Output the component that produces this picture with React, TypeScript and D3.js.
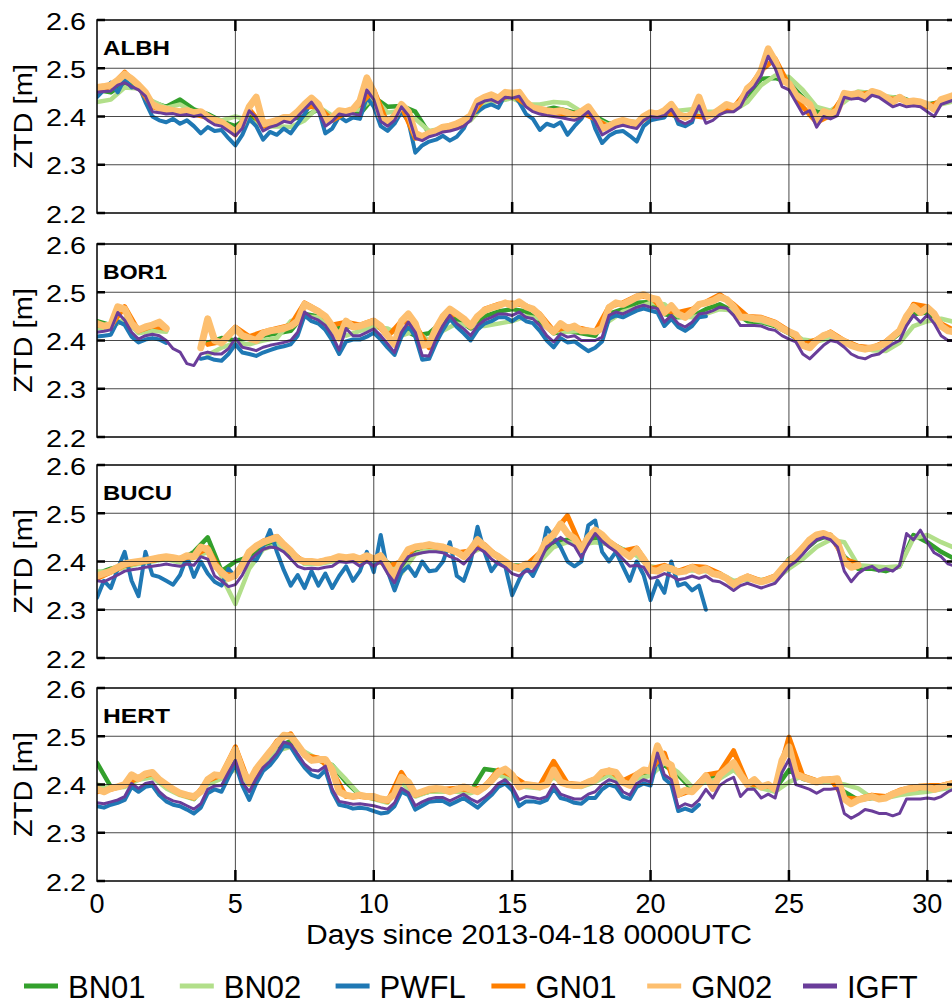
import React from 'react';
import * as d3 from 'd3';

// ZTD values in mm. 0.25-day arrays have 125 values, 0.5-day arrays 63.
const _ = null;

// ---------- ALBH ----------
const ALBH_BN01 = [
  2455, 2450, 2470, 2460, 2430, 2420, 2435, 2415, 2405, 2390,
  2380, 2400, 2385, 2390, 2395, 2400, 2415, 2395, 2410, 2405,
  2440, 2420, 2422, 2410, 2365, 2372, 2378, 2395, 2430, 2432,
  2440, 2428, 2412, 2418, 2412, 2405, 2400, 2385, 2390, 2388,
  2402, 2408, 2400, 2402, 2400, 2408, 2415, 2440, 2478, 2480,
  2470, 2440, 2410, 2405, 2440, 2450, 2450, 2440, 2440, 2430,
  2425, 2430, 2435,
];
const ALBH_BN02 = [
  2430, 2435, 2460, 2458, 2432, 2418, 2425, 2408, 2400, 2392,
  2400, 2392, 2378, 2380, 2378, 2392, 2420, 2402, 2412, 2415,
  2440, 2408, 2412, 2395, 2370, 2375, 2380, 2392, 2425, 2432,
  2438, 2425, 2425, 2430, 2428, 2410, 2395, 2382, 2385, 2385,
  2400, 2410, 2412, 2415, 2410, 2410, 2412, 2430, 2465, 2485,
  2482, 2455, 2420, 2412, 2430, 2452, 2448, 2442, 2438, 2428,
  2422, 2425, 2432,
];
const ALBH_PWFL = [
  2440, 2455, 2470, 2450, 2478, 2460, 2465, 2430, 2400, 2392, 2388, 2395, 2385, 2392, 2380, 2365, 2378, 2370, 2372, 2355,
  2340, 2362, 2395, 2380, 2352, 2368, 2362, 2375, 2365, 2385, 2405, 2430, 2415, 2365, 2375, 2400, 2390, 2398, 2395, 2440,
  2420, 2380, 2370, 2385, 2410, 2390, 2325, 2340, 2348, 2352, 2360, 2350, 2358, 2375, 2405, 2410, 2420, 2425, 2418, 2445,
  2450, 2430, 2405, 2395, 2372, 2385, 2380, 2388, 2362, 2380, 2395, 2420, 2375, 2345, 2360, 2368, 2370, 2360, 2348, 2380,
  2392, 2395, 2398, 2420, 2385, 2380, 2388, 2430, _, _, _, _, _, _, _, _, _, _, _, _,
  _, _, _, _, _, _, _, _, _, _, _, _, _, _, _, _, _, _, _, _,
  _, _, _, _, _,
];
const ALBH_GN01 = [
  2455, 2462, 2492, 2462, 2420, 2412, 2408, 2405, 2398, 2385,
  2362, 2415, 2380, 2388, 2395, 2420, 2420, 2392, 2408, 2425,
  2455, 2385, 2422, 2355, 2362, 2372, 2380, 2400, 2438, 2435,
  2445, 2425, 2410, 2408, 2405, 2408, 2395, 2378, 2388, 2382,
  2405, 2410, 2400, 2402, 2398, 2412, 2418, 2455, 2495, 2520,
  2465, 2420, 2388, 2402, 2445, 2445, 2450, 2438, 2435, 2430,
  2420, 2432, 2440,
];
const ALBH_GN02 = [
  2460, 2462, 2465, 2475, 2488, 2478, 2465, 2450, 2425, 2418, 2415, 2412, 2410, 2412, 2408, 2410, 2400, 2392, 2388, 2378,
  2368, 2385, 2420, 2440, 2385, 2388, 2392, 2398, 2398, 2410, 2425, 2438, 2425, 2392, 2398, 2412, 2410, 2415, 2432, 2480,
  2450, 2400, 2388, 2400, 2425, 2410, 2365, 2358, 2365, 2370, 2378, 2380, 2385, 2392, 2402, 2432, 2440, 2445, 2438, 2450,
  2448, 2450, 2430, 2418, 2415, 2412, 2410, 2412, 2408, 2402, 2410, 2420, 2400, 2375, 2380, 2388, 2392, 2388, 2385, 2400,
  2408, 2405, 2412, 2425, 2405, 2398, 2405, 2440, 2400, 2405, 2415, 2425, 2420, 2428, 2458, 2470, 2495, 2540, 2515, 2475,
  2468, 2445, 2435, 2425, 2390, 2410, 2405, 2412, 2448, 2445, 2448, 2440, 2452, 2448, 2440, 2430, 2440, 2430, 2432, 2430,
  2425, 2415, 2435, 2440, 2445,
];
const ALBH_IGFT = [
  2450, 2452, 2453, 2465, 2470, 2462, 2455, 2442, 2410, 2408, 2405, 2406, 2402, 2404, 2400, 2403, 2392, 2383, 2380, 2370,
  2360, 2375, 2412, 2398, 2370, 2378, 2382, 2390, 2387, 2400, 2415, 2430, 2410, 2380, 2390, 2405, 2402, 2406, 2402, 2455,
  2435, 2390, 2380, 2392, 2420, 2402, 2355, 2350, 2358, 2362, 2368, 2370, 2374, 2380, 2392, 2425, 2432, 2435, 2428, 2440,
  2438, 2442, 2420, 2410, 2405, 2402, 2400, 2398, 2395, 2392, 2398, 2410, 2390, 2362, 2370, 2378, 2382, 2378, 2375, 2392,
  2400, 2398, 2402, 2415, 2392, 2385, 2392, 2422, 2386, 2392, 2404, 2410, 2410, 2420, 2448, 2462, 2485, 2525, 2500, 2462,
  2455, 2430, 2405, 2412, 2378, 2400, 2395, 2402, 2440, 2436, 2438, 2432, 2444, 2440, 2430, 2420, 2425, 2420, 2422, 2420,
  2410, 2400, 2425, 2430, 2435,
];

// ---------- BOR1 ----------
const BOR1_BN01 = [
  2440, 2432, 2440, 2418, 2425, 2420, _, _, 2395, 2405,
  2400, 2405, 2410, 2415, 2420, 2455, 2450, 2425, 2430, 2425,
  2435, 2420, 2425, 2410, 2415, 2440, 2445, 2425, 2450, 2460,
  2465, 2460, 2440, 2415, 2420, 2415, 2410, 2455, 2465, 2478,
  2480, 2455, 2448, 2450, 2465, 2475, 2460, 2440, 2438, 2430,
  2415, 2395, 2400, 2410, 2395, 2385, 2382, 2392, 2415, 2455,
  2458, 2430, 2420,
];
const BOR1_BN02 = [
  2425, 2428, 2445, 2415, 2420, 2418, _, _, 2370, 2385,
  2395, 2392, 2400, 2405, 2440, 2450, 2448, 2420, 2410, 2420,
  2428, 2425, 2410, 2420, 2400, 2420, 2435, 2430, 2430, 2435,
  2440, 2450, 2445, 2420, 2418, 2420, 2420, 2440, 2460, 2468,
  2478, 2475, 2450, 2448, 2455, 2465, 2462, 2445, 2440, 2432,
  2420, 2402, 2398, 2405, 2400, 2388, 2380, 2378, 2395, 2430,
  2440, 2445, 2438,
];
const BOR1_PWFL = [
  2408, 2410, 2412, 2440, 2432, 2408, 2396, 2402, 2405, 2402, 2395, _, _, _, _, 2362, 2365, 2360, 2358, 2372,
  2392, 2375, 2372, 2368, 2375, 2380, 2385, 2388, 2392, 2410, 2452, 2440, 2435, 2422, 2400, 2372, 2398, 2402, 2402, 2408,
  2416, 2402, 2385, 2370, 2408, 2430, 2408, 2360, 2362, 2395, 2422, 2445, 2428, 2415, 2400, 2422, 2435, 2440, 2448, 2448,
  2440, 2450, 2440, 2436, 2420, 2400, 2386, 2405, 2396, 2398, 2388, 2378, 2385, 2398, 2445, 2452, 2448, 2455, 2462, 2466,
  2462, 2458, 2430, 2445, 2428, 2420, 2430, 2448, 2450, _, _, _, _, _, _, _, _, _, _, _,
  _, _, _, _, _, _, _, _, _, _, _, _, _, _, _, _, _, _, _, _,
  _, _, _, _, _,
];
const BOR1_GN01 = [
  2432, 2430, 2470, 2420, 2430, 2425, _, _, 2392, 2398,
  2428, 2408, 2418, 2425, 2432, 2478, 2462, 2432, 2438, 2432,
  2442, 2408, 2440, 2432, 2385, 2448, 2455, 2432, 2465, 2475,
  2478, 2472, 2455, 2420, 2428, 2425, 2418, 2470, 2478, 2492,
  2490, 2462, 2458, 2465, 2480, 2495, 2475, 2450, 2448, 2438,
  2420, 2392, 2402, 2418, 2400, 2388, 2385, 2398, 2422, 2475,
  2470, 2435, 2420,
];
const BOR1_GN02 = [
  2435, 2430, 2432, 2470, 2465, 2435, 2422, 2428, 2432, 2438, 2425, _, _, _, _, 2385, 2445, 2400, 2395, 2410,
  2425, 2410, 2405, 2400, 2415, 2420, 2422, 2425, 2430, 2440, 2475, 2468, 2460, 2450, 2430, 2405, 2440, 2428, 2430, 2435,
  2440, 2430, 2410, 2392, 2440, 2455, 2435, 2390, 2392, 2425, 2450, 2465, 2455, 2445, 2430, 2450, 2462, 2468, 2472, 2478,
  2472, 2480, 2470, 2465, 2452, 2430, 2418, 2435, 2425, 2430, 2420, 2420, 2418, 2425, 2468, 2478, 2475, 2482, 2490, 2495,
  2488, 2485, 2458, 2472, 2455, 2448, 2460, 2475, 2478, 2482, 2490, 2485, 2470, 2448, 2448, 2445, 2445, 2440, 2435, 2425,
  2418, 2412, 2390, 2385, 2400, 2410, 2415, 2405, 2398, 2390, 2385, 2382, 2385, 2388, 2395, 2408, 2420, 2450, 2470, 2458,
  2468, 2455, 2430, 2420, 2418,
];
const BOR1_IGFT = [
  2417, 2419, 2422, 2458, 2442, 2417, 2403, 2410, 2413, 2410, 2400, 2383, 2376, 2352, 2348, 2372, 2376, 2372, 2372, 2383,
  2405, 2386, 2383, 2379, 2386, 2390, 2393, 2396, 2400, 2417, 2459, 2448, 2442, 2431, 2410, 2380, 2425, 2410, 2410, 2417,
  2424, 2410, 2393, 2375, 2417, 2438, 2417, 2369, 2368, 2403, 2431, 2452, 2435, 2424, 2410, 2431, 2442, 2448, 2455, 2455,
  2452, 2459, 2448, 2445, 2431, 2410, 2397, 2414, 2407, 2410, 2400, 2400, 2400, 2407, 2452, 2459, 2455, 2462, 2469, 2473,
  2469, 2466, 2438, 2452, 2435, 2428, 2438, 2455, 2457, 2462, 2469, 2467, 2452, 2431, 2431, 2431, 2430, 2424, 2421, 2410,
  2403, 2397, 2372, 2362, 2376, 2390, 2400, 2397, 2386, 2372, 2365, 2362, 2369, 2372, 2383, 2393, 2400, 2431, 2452, 2438,
  2453, 2435, 2410, 2400, 2400,
];

// ---------- BUCU ----------
const BUCU_BN01 = [
  2375, 2385, 2392, 2400, 2405, 2408, 2402, 2420, 2450, 2380,
  2400, 2410, 2430, 2440, 2415, 2398, 2398, 2402, 2405, 2402,
  2405, 2398, 2380, 2425, 2430, 2428, 2418, 2420, 2432, 2410,
  2392, 2390, 2410, 2440, 2445, 2425, 2450, 2440, 2425, 2415,
  2385, 2388, 2380, 2385, 2382, 2372, 2358, 2365, 2360, 2365,
  2405, 2420, 2445, 2455, 2410, 2385, 2385, 2380, 2390, 2455,
  2440, 2420, 2405,
];
const BUCU_BN02 = [
  2380, 2378, 2388, 2395, 2400, 2405, 2398, 2408, 2420, 2370,
  2312, 2385, 2425, 2435, 2418, 2395, 2395, 2400, 2402, 2400,
  2400, 2395, 2375, 2415, 2425, 2425, 2418, 2418, 2430, 2412,
  2390, 2385, 2400, 2430, 2440, 2435, 2440, 2435, 2425, 2412,
  2390, 2385, 2380, 2382, 2380, 2375, 2360, 2362, 2362, 2362,
  2385, 2405, 2430, 2445, 2440, 2392, 2390, 2388, 2390, 2448,
  2455, 2440, 2428,
];
const BUCU_PWFL = [
  2325, 2360, 2345, 2385, 2420, 2360, 2328, 2420, 2372, 2368, 2360, 2352, 2372, 2410, 2368, 2400, 2375, 2358, 2350, 2385,
  2368, 2400, 2410, 2402, 2430, 2465, 2420, 2382, 2350, 2372, 2345, 2380, 2350, 2375, 2345, 2370, 2390, 2360, 2380, 2420,
  2378, 2455, 2380, 2340, 2378, 2390, 2370, 2400, 2380, 2382, 2400, 2440, 2370, 2360, 2400, 2472, 2420, 2380, 2400, 2390,
  2330, 2362, 2388, 2370, 2400, 2470, 2450, 2430, 2400, 2390, 2400, 2475, 2485, 2420, 2400, 2420, 2390, 2360, 2400, 2372,
  2320, 2360, 2335, 2400, 2350, 2355, 2340, 2350, 2300, _, _, _, _, _, _, _, _, _, _, _,
  _, _, _, _, _, _, _, _, _, _, _, _, _, _, _, _, _, _, _, _,
  _, _, _, _, _,
];
const BUCU_GN01 = [
  2365, 2378, 2392, 2398, 2402, 2408, 2405, 2412, 2428, 2375,
  2370, 2418, 2442, 2452, 2420, 2398, 2400, 2405, 2405, 2402,
  2408, 2390, 2400, 2430, 2432, 2428, 2418, 2422, 2435, 2408,
  2388, 2392, 2418, 2460, 2495, 2430, 2462, 2442, 2422, 2428,
  2385, 2392, 2380, 2390, 2388, 2375, 2355, 2370, 2360, 2370,
  2400, 2430, 2455, 2455, 2405, 2395, _, _, _, _,
  _, _, _,
];
const BUCU_GN02 = [
  2370, 2375, 2380, 2388, 2395, 2398, 2400, 2402, 2405, 2408, 2410, 2408, 2405, 2412, 2410, 2430, 2425, 2392, 2378, 2365,
  2372, 2392, 2420, 2432, 2440, 2445, 2450, 2435, 2422, 2405, 2400, 2400, 2398, 2402, 2405, 2410, 2408, 2410, 2405, 2412,
  2405, 2412, 2392, 2370, 2402, 2425, 2430, 2432, 2435, 2432, 2430, 2425, 2420, 2410, 2425, 2445, 2432, 2418, 2410, 2400,
  2390, 2385, 2395, 2392, 2415, 2445, 2455, 2478, 2458, 2448, 2425, 2450, 2465, 2455, 2440, 2430, 2420, 2410, 2425, 2405,
  2382, 2380, 2388, 2385, 2378, 2380, 2388, 2380, 2385, 2375, 2372, 2365, 2352, 2362, 2368, 2362, 2358, 2362, 2368, 2385,
  2400, 2412, 2428, 2445, 2455, 2458, 2452, 2440, 2400, 2388, 2392, _, _, _, _, _, _, _, _, _,
  _, _, _, _, _,
];
const BUCU_IGFT = [
  2360, 2358, 2365, 2372, 2380, 2383, 2385, 2388, 2390, 2392, 2395, 2392, 2390, 2395, 2392, 2410, 2405, 2370, 2360, 2348,
  2352, 2372, 2400, 2415, 2425, 2430, 2428, 2420, 2405, 2390, 2385, 2386, 2385, 2388, 2390, 2400, 2398, 2400, 2390, 2400,
  2390, 2400, 2375, 2356, 2390, 2410, 2415, 2418, 2420, 2420, 2418, 2410, 2405, 2395, 2410, 2428, 2420, 2405, 2395, 2388,
  2375, 2370, 2380, 2380, 2400, 2430, 2440, 2450, 2440, 2432, 2408, 2435, 2458, 2442, 2430, 2420, 2405, 2390, 2392, 2388,
  2365, 2368, 2375, 2370, 2362, 2365, 2370, 2365, 2370, 2360, 2358, 2350, 2340, 2350, 2355, 2350, 2345, 2350, 2355, 2372,
  2390, 2400, 2415, 2432, 2445, 2450, 2445, 2430, 2380, 2358, 2375, 2385, 2390, 2380, 2385, 2380, 2392, 2458, 2445, 2465,
  2440, 2418, 2410, 2395, 2390,
];

// ---------- HERT ----------
const HERT_BN01 = [
  2445, 2395, 2398, 2412, 2418, 2395, 2380, 2370, 2405, 2418,
  2455, 2400, 2440, 2478, 2490, 2465, 2450, 2440, 2405, 2378,
  2372, 2365, 2412, 2378, 2385, 2388, 2388, 2385, 2432, 2428,
  2415, 2398, 2395, 2425, 2402, 2398, 2408, 2425, 2405, 2418,
  2425, 2440, 2420, 2390, 2412, 2418, 2440, 2400, 2395, 2390,
  2430, 2412, 2405, 2408, 2385, 2368, 2372, 2372, 2385, 2390,
  2392, 2392, 2398,
];
const HERT_BN02 = [
  2400, 2392, 2395, 2410, 2415, 2392, 2378, 2370, 2400, 2412,
  2432, 2400, 2435, 2470, 2478, 2468, 2452, 2440, 2410, 2378,
  2370, 2362, 2405, 2375, 2385, 2385, 2385, 2382, 2392, 2420,
  2410, 2395, 2392, 2415, 2398, 2395, 2405, 2420, 2402, 2412,
  2418, 2445, 2425, 2395, 2405, 2412, 2430, 2405, 2392, 2385,
  2405, 2418, 2408, 2405, 2400, 2392, 2372, 2372, 2378, 2382,
  2385, 2390, 2395,
];
const HERT_PWFL = [
  2355, 2352, 2358, 2362, 2368, 2395, 2385, 2395, 2398, 2378, 2365, 2358, 2355, 2348, 2340, 2352, 2382, 2390, 2385, 2415,
  2442, 2398, 2368, 2402, 2428, 2440, 2458, 2480, 2478, 2455, 2435, 2420, 2415, 2430, 2385, 2358, 2355, 2350, 2352, 2350,
  2345, 2340, 2342, 2355, 2385, 2378, 2348, 2356, 2364, 2366, 2366, 2358, 2365, 2372, 2362, 2352, 2365, 2378, 2395, 2402,
  2388, 2355, 2365, 2365, 2362, 2368, 2392, 2372, 2368, 2362, 2360, 2372, 2372, 2390, 2400, 2395, 2375, 2370, 2395, 2402,
  2398, 2455, 2412, 2400, 2345, 2350, 2345, 2358, _, _, _, _, _, _, _, _, _, _, _, _,
  _, _, _, _, _, _, _, _, _, _, _, _, _, _, _, _, _, _, _, _,
  _, _, _, _, _,
];
const HERT_GN01 = [
  2385, 2390, 2398, 2415, 2422, 2398, 2380, 2372, 2408, 2420,
  2478, 2402, 2448, 2490, 2505, 2460, 2455, 2428, 2375, 2375,
  2372, 2365, 2425, 2378, 2388, 2390, 2392, 2388, 2395, 2430,
  2418, 2400, 2398, 2448, 2402, 2400, 2412, 2430, 2408, 2422,
  2430, 2465, 2378, 2388, 2420, 2425, 2470, 2402, 2398, 2395,
  2498, 2418, 2408, 2412, 2372, 2370, 2378, 2375, 2388, 2395,
  2398, 2398, 2405,
];
const HERT_GN02 = [
  2390, 2385, 2392, 2395, 2400, 2420, 2412, 2422, 2425, 2410, 2400, 2390, 2382, 2378, 2375, 2385, 2410, 2420, 2418, 2445,
  2472, 2430, 2405, 2432, 2450, 2468, 2485, 2502, 2500, 2482, 2462, 2450, 2452, 2452, 2430, 2385, 2378, 2375, 2378, 2375,
  2375, 2370, 2368, 2380, 2415, 2405, 2380, 2385, 2390, 2392, 2390, 2385, 2390, 2395, 2390, 2385, 2395, 2408, 2425, 2432,
  2420, 2395, 2400, 2398, 2395, 2400, 2430, 2405, 2400, 2398, 2398, 2405, 2410, 2425, 2428, 2425, 2405, 2398, 2420, 2430,
  2428, 2480, 2448, 2440, 2380, 2388, 2385, 2400, 2418, 2392, 2420, 2432, 2445, 2420, 2400, 2410, 2395, 2400, 2390, 2450,
  2478, 2422, 2415, 2410, 2405, 2410, 2410, 2412, 2370, 2360, 2368, 2372, 2375, 2370, 2372, 2380, 2385, 2390, 2392, 2395,
  2395, 2390, 2395, 2400, 2402,
];
const HERT_IGFT = [
  2362, 2360, 2364, 2368, 2375, 2402, 2392, 2402, 2405, 2385, 2373, 2366, 2363, 2356, 2349, 2360, 2390, 2397, 2398, 2425,
  2450, 2405, 2385, 2412, 2435, 2448, 2465, 2488, 2483, 2463, 2442, 2430, 2428, 2438, 2390, 2365, 2362, 2359, 2360, 2358,
  2356, 2352, 2349, 2362, 2392, 2383, 2356, 2364, 2370, 2373, 2373, 2366, 2373, 2380, 2370, 2363, 2373, 2385, 2402, 2410,
  2395, 2368, 2375, 2373, 2370, 2375, 2400, 2380, 2375, 2370, 2370, 2380, 2385, 2400, 2410, 2405, 2385, 2378, 2402, 2410,
  2405, 2465, 2420, 2410, 2352, 2360, 2355, 2368, 2390, 2372, 2398, 2408, 2415, 2375, 2390, 2390, 2372, 2380, 2372, 2425,
  2452, 2400, 2395, 2390, 2382, 2390, 2390, 2392, 2340, 2330, 2338, 2348, 2345, 2340, 2340, 2335, 2340, 2370, 2370, 2370,
  2372, 2370, 2375, 2385, 2392,
];

const SERIES = ['BN01', 'BN02', 'PWFL', 'GN01', 'GN02', 'IGFT'];
const COLORS = ['#33a02c', '#b2df8a', '#1f78b4', '#ff7f00', '#fdbf6f', '#6a3d9a'];
const WIDTHS = [4.5, 4.5, 4, 5, 7, 3];
const STATIONS = ['ALBH', 'BOR1', 'BUCU', 'HERT'];
const TITLE_LEN = [67, 64, 69, 67];
const DATA = [
  [ALBH_BN01, ALBH_BN02, ALBH_PWFL, ALBH_GN01, ALBH_GN02, ALBH_IGFT],
  [BOR1_BN01, BOR1_BN02, BOR1_PWFL, BOR1_GN01, BOR1_GN02, BOR1_IGFT],
  [BUCU_BN01, BUCU_BN02, BUCU_PWFL, BUCU_GN01, BUCU_GN02, BUCU_IGFT],
  [HERT_BN01, HERT_BN02, HERT_PWFL, HERT_GN01, HERT_GN02, HERT_IGFT],
];
const X_TICKS = [0, 5, 10, 15, 20, 25, 30];
const Y_TICKS = [2.2, 2.3, 2.4, 2.5, 2.6];
const LAST_DAY = 31;

const W = 952;
const H = 1006;
const LEFT = 97;
const RIGHT = 955;
const TOPS = [20, 244, 465, 688];
const PH = 193;
const FONT = "'Liberation Sans', Arial, Helvetica, sans-serif";

export default function App() {
  const x = d3.scaleLinear().domain([0, LAST_DAY]).range([LEFT, RIGHT]);
  const bottom = TOPS[3] + PH;

  return (
    <svg width={W} height={H} style={{ position: 'absolute', left: 0, top: 0, background: '#fff' }}
      fontFamily={FONT}>
      <defs>
        {TOPS.map((top, k) => (
          <clipPath key={k} id={`clip${k}`}>
            <rect x={LEFT} y={top} width={RIGHT - LEFT} height={PH} />
          </clipPath>
        ))}
      </defs>
      {STATIONS.map((name, k) => {
        const top = TOPS[k];
        const y = d3.scaleLinear().domain([2.2, 2.6]).range([top + PH, top]);
        const line = d3.line<[number, number | null]>()
          .defined(d => d[1] != null)
          .x(d => x(d[0]))
          .y(d => y((d[1] as number) / 1000));
        return (
          <g key={name}>
            <g clipPath={`url(#clip${k})`}>
              {DATA[k].map((vals, s) => {
                const pts = vals.map((v, i) => [i * LAST_DAY / (vals.length - 1), v] as [number, number | null]);
                return (
                  <path key={s} d={line(pts) || ''} fill="none" stroke={COLORS[s]}
                    strokeWidth={WIDTHS[s]} strokeLinejoin="round" strokeLinecap="round" />
                );
              })}
              {Y_TICKS.slice(1, -1).map(t => (
                <line key={t} x1={LEFT} x2={RIGHT} y1={y(t)} y2={y(t)} stroke="#1a1a1a" strokeOpacity={0.8} strokeWidth={1} />
              ))}
              {X_TICKS.slice(1).map(t => (
                <line key={t} x1={x(t)} x2={x(t)} y1={top} y2={top + PH} stroke="#1a1a1a" strokeOpacity={0.8} strokeWidth={1} />
              ))}
            </g>
            <rect x={LEFT} y={top} width={RIGHT - LEFT} height={PH} fill="none" stroke="#000" strokeWidth={1.5} />
            {X_TICKS.slice(1).map(t => (
              <g key={t} stroke="#000" strokeWidth={2.5}>
                <line x1={x(t)} x2={x(t)} y1={top} y2={top + 11} />
                <line x1={x(t)} x2={x(t)} y1={top + PH} y2={top + PH - 11} />
              </g>
            ))}
            {Y_TICKS.map(t => (
              <g key={t}>
                <line x1={LEFT} x2={LEFT + 8} y1={y(t)} y2={y(t)} stroke="#000" strokeWidth={2.5} />
                <line x1={RIGHT} x2={RIGHT - 8} y1={y(t)} y2={y(t)} stroke="#000" strokeWidth={2.5} />
                <text x={86} y={y(t) + 9.5} fontSize={24} textAnchor="end" textLength={40}
                  lengthAdjust="spacingAndGlyphs">{t.toFixed(1)}</text>
              </g>
            ))}
            <text transform={`translate(32,${y(2.4)}) rotate(-90)`} fontSize={25} textAnchor="middle"
              textLength={105} lengthAdjust="spacingAndGlyphs">ZTD [m]</text>
            <text x={103} y={top + 35} fontSize={21} fontWeight="bold" textLength={TITLE_LEN[k]}
              lengthAdjust="spacingAndGlyphs">{name}</text>
          </g>
        );
      })}
      {X_TICKS.map(t => (
        <text key={t} x={x(t)} y={bottom + 32} fontSize={27} textAnchor="middle">{t}</text>
      ))}
      <text x={529} y={944} fontSize={27} textAnchor="middle" textLength={446}
        lengthAdjust="spacingAndGlyphs">Days since 2013-04-18 0000UTC</text>
      {SERIES.map((s, i) => {
        const sx = 24 + i * 155.8;
        return (
          <g key={s}>
            <line x1={sx} x2={sx + 34} y1={986} y2={986} stroke={COLORS[i]} strokeWidth={5} />
            <text x={sx + 44} y={998} fontSize={31}>{s}</text>
          </g>
        );
      })}
    </svg>
  );
}
